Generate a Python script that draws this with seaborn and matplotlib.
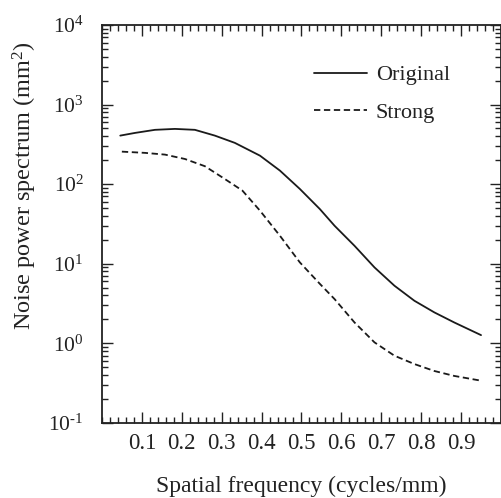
import numpy as np
import pandas as pd
import matplotlib
matplotlib.use("Agg")
import matplotlib.pyplot as plt
import seaborn as sns
from matplotlib.ticker import MultipleLocator, LogLocator, NullFormatter

freq_original = [0.046, 0.083, 0.133, 0.183, 0.233, 0.283, 0.333, 0.396, 0.446,
                 0.496, 0.546, 0.583, 0.633, 0.683, 0.733, 0.783, 0.833, 0.883, 0.95]
original = [407, 440, 481, 494, 481, 407, 330, 228, 148,
            87, 48.7, 30, 16.8, 9.0, 5.3, 3.43, 2.45, 1.83, 1.27]
freq_strong = [0.05, 0.108, 0.158, 0.208, 0.258, 0.308, 0.352, 0.396, 0.446,
               0.496, 0.546, 0.583, 0.633, 0.683, 0.733, 0.783, 0.833, 0.883, 0.95]
strong = [256, 247, 235, 207, 168, 116, 83, 46.5, 22.5,
          10.4, 5.6, 3.6, 1.83, 1.03, 0.70, 0.55, 0.45, 0.39, 0.34]
series_names = ["Original", "Strong"]
x_ticks = [0.1, 0.2, 0.3, 0.4, 0.5, 0.6, 0.7, 0.8, 0.9]
x_tick_labels = ["0.1", "0.2", "0.3", "0.4", "0.5", "0.6", "0.7", "0.8", "0.9"]
y_ticks = [1e-1, 1e0, 1e1, 1e2, 1e3, 1e4]
y_tick_labels = [r"$10^{\text{-}1}$", "$10^{0}$", "$10^{1}$", "$10^{2}$", "$10^{3}$", "$10^{4}$"]

df = pd.DataFrame({
    "freq": freq_original + freq_strong,
    "nps": original + strong,
    "series": [series_names[0]] * len(freq_original) + [series_names[1]] * len(freq_strong),
})

sns.set_theme(style="ticks")
plt.rcParams["font.family"] = ["Liberation Serif", "DejaVu Serif"]
plt.rcParams["mathtext.fontset"] = "custom"
plt.rcParams["mathtext.rm"] = "Liberation Serif"
plt.rcParams["mathtext.it"] = "Liberation Serif:italic"
plt.rcParams["mathtext.bf"] = "Liberation Serif:bold"

TXT = "#222222"
fig = plt.figure(figsize=(5.02, 4.98), dpi=100)
ax = fig.add_axes([0.203, 0.1506, 0.795, 0.7994])

sns.lineplot(data=df, x="freq", y="nps", style="series", color="#1a1a1a",
             dashes={"Original": "", "Strong": (3.5, 2.0)},
             linewidth=1.3, ax=ax, legend=True, sort=True)

ax.set_yscale("log")
ax.set_xlim(0, 1.0)
ax.set_ylim(1e-1, 1e4)

ax.set_xticks(x_ticks)
ax.set_xticklabels(x_tick_labels)
ax.xaxis.set_minor_locator(MultipleLocator(0.02))
ax.set_yticks(y_ticks)
ax.set_yticklabels(y_tick_labels)
ax.yaxis.set_minor_locator(LogLocator(base=10, subs=np.arange(2, 10)))
ax.yaxis.set_minor_formatter(NullFormatter())

ax.tick_params(which="both", direction="in", top=True, right=True,
               color=TXT, width=1.0, labelcolor=TXT)
ax.tick_params(which="major", length=8)
ax.tick_params(axis="x", which="major", labelsize=16.5, pad=7)
ax.tick_params(axis="y", which="major", labelsize=15.5, pad=13)
ax.tick_params(which="minor", length=4.5)
for s in ax.spines.values():
    s.set_linewidth(1.3)
    s.set_color(TXT)

ax.set_xlabel("Spatial frequency (cycles/mm)", fontsize=17, color=TXT)
ax.set_ylabel("Noise power spectrum (mm$^2$)", fontsize=17.5, color=TXT)
ax.xaxis.set_label_coords(0.5, -0.133)
ax.yaxis.set_label_coords(-0.158, 0.595)

leg = ax.legend(loc="upper right", frameon=False, fontsize=16, handlelength=2.4,
                handletextpad=0.4, labelspacing=0.75, bbox_to_anchor=(0.922, 0.95))
for t in leg.get_texts():
    t.set_color(TXT)

fig.savefig("out.png", dpi=100)
